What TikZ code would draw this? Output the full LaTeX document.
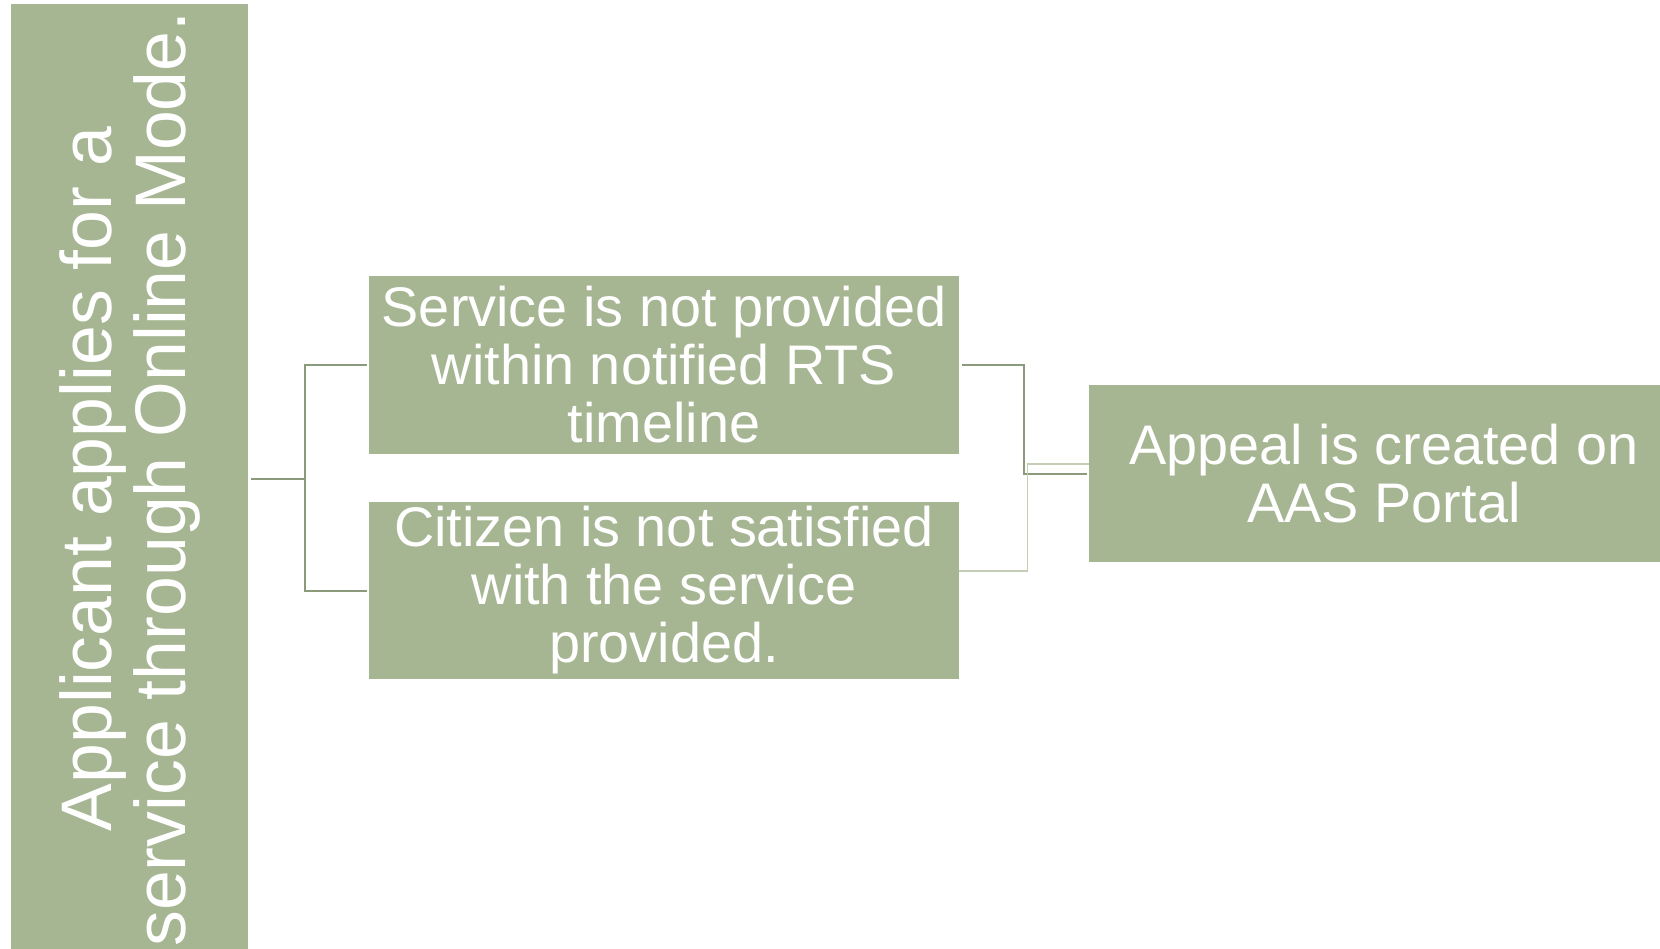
\documentclass[tikz,border=0pt]{standalone}
\usepackage{fontspec}
\setmainfont{Liberation Sans}
\usetikzlibrary{calc}
\definecolor{boxfill}{HTML}{A6B592}
\definecolor{linkdark}{HTML}{8A9A7A}
\definecolor{linklight}{HTML}{C3CEB5}
\begin{document}
\begin{tikzpicture}[x=1pt,y=-1pt,
  box/.style={fill=boxfill, draw=none, text=white, align=center, inner sep=0pt},
  midtext/.style={font=\fontsize{55.8}{58}\selectfont},
  link/.style={draw=linkdark, line width=2pt},
  softlink/.style={draw=linklight, line width=1.2pt}]
\useasboundingbox (0,0) rectangle (1660,949);
\begin{scope}
  \clip (0,0) rectangle (1660,949);
  % tall rotated start box (runs past the lower edge)
  \node[box, rotate=90, minimum width=950pt, minimum height=237pt,
        font=\fontsize{71.6}{74}\selectfont] (apply) at (129.5,479)
        {Applicant applies for a\\service through Online Mode.};
  % the two conditions
  \node[box, midtext, minimum width=590pt, minimum height=178pt] (late) at (664,365)
        {Service is not provided\\within notified RTS\\timeline};
  \node[box, midtext, minimum width=590pt, minimum height=177pt] (unhappy) at (664,590.5)
        {Citizen is not satisfied\\with the service\\provided.};
  % outcome
  \node[box, midtext, minimum width=590pt, minimum height=177pt] (appeal) at (1384,473.5)
        {Appeal is created on\\AAS Portal};
\end{scope}
% branching from the start box
\draw[link, shorten <=3pt, shorten >=2pt] (apply.south) -- ++(57,0) |- (late.west);
\draw[link, shorten <=3pt, shorten >=2pt] (apply.south) -- ++(57,0) |- (unhappy.west);
% joining into the outcome
\draw[link, shorten <=3pt, shorten >=2pt] (late.east) -| ($(late.east)!.5!(appeal.west)$) |- (appeal.west);
\draw[softlink] ($(unhappy.east)+(0,-19.5)$) -| ($(unhappy.east)+(68,-19.5)$) |- ($(appeal.west)+(0,-9.5)$);
\end{tikzpicture}
\end{document}
